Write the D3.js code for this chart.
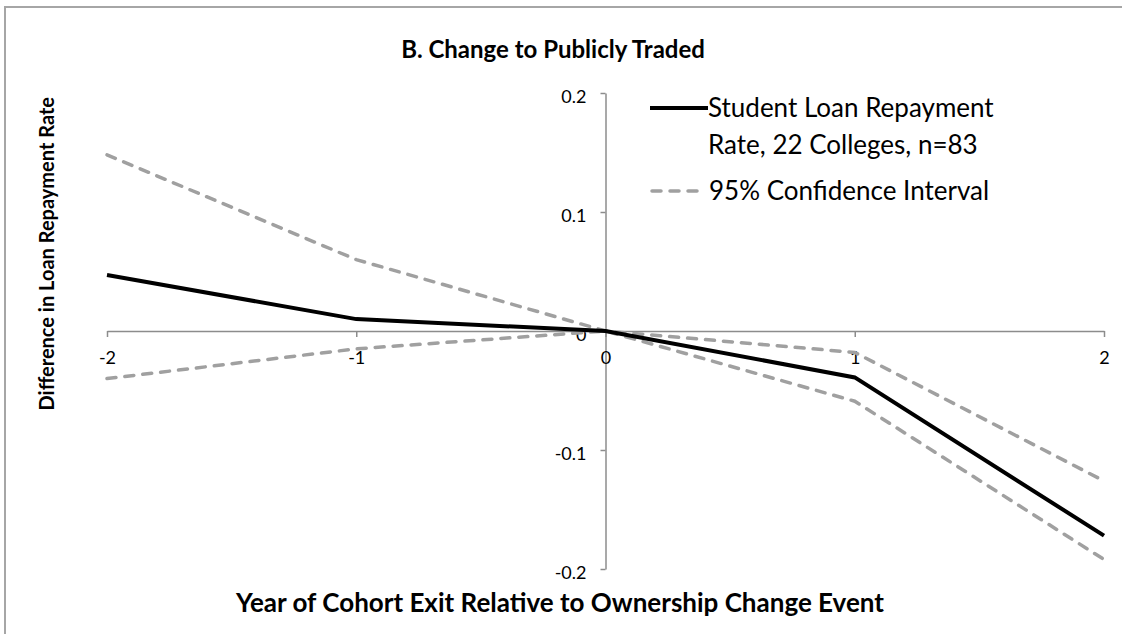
<!DOCTYPE html>
<html>
<head>
<meta charset="utf-8">
<script src="https://cdn.jsdelivr.net/npm/d3@7"></script>
<style>
  body { margin: 0; background: #fff; overflow: hidden; }
  text { font-family: Lato, "Open Sans", sans-serif; }
</style>
</head>
<body>
<div id="chart"></div>
<script>
// data
var years = [-2, -1, 0, 1, 2];
var repayment = [0.047, 0.010, 0, -0.039, -0.172];
var ciUpper = [0.148, 0.060, 0, -0.018, -0.126];
var ciLower = [-0.040, -0.015, 0, -0.059, -0.192];
var yTicks = [-0.2, -0.1, 0, 0.1, 0.2];

var svgWidth = 1122, svgHeight = 634;

var svg = d3.select("#chart")
  .append("svg")
    .attr("width", svgWidth)
    .attr("height", svgHeight)
    .style("display", "block");

// chart area border (cut off at right/bottom like the original)
svg.append("rect")
  .attr("x", 5).attr("y", 7)
  .attr("width", 1200).attr("height", 700)
  .style("fill", "none")
  .style("stroke", "#a6a6a6")
  .style("stroke-width", 2);

var x = d3.scaleLinear().domain([-2, 2]).range([107, 1104]);
var y = d3.scaleLinear().domain([-0.2, 0.2]).range([569, 93]);

var fmt = function(d) { return String(d); };

// y axis through x = 0
var yAxis = svg.append("g")
  .attr("transform", "translate(" + x(0) + ",0)")
  .call(d3.axisLeft(y).tickValues(yTicks).tickSize(5).tickSizeOuter(0).tickPadding(14).tickFormat(fmt));

// x axis through y = 0
var xAxis = svg.append("g")
  .attr("transform", "translate(0," + y(0) + ")")
  .call(d3.axisBottom(x).tickValues(years).tickSize(6).tickSizeOuter(0).tickPadding(14).tickFormat(fmt));

[yAxis, xAxis].forEach(function(g) {
  g.select(".domain").style("stroke", "#8c8c8c").style("stroke-width", 1.5);
  g.selectAll(".tick line").style("stroke", "#8c8c8c").style("stroke-width", 1.5);
  g.selectAll(".tick text").style("font-size", "18px").style("fill", "#000")
    .style("font-family", "Lato, sans-serif");
});
yAxis.selectAll(".tick text").attr("dy", "0.5em");

var line = d3.line()
  .x(function(d, i) { return x(years[i]); })
  .y(function(d) { return y(d); });

// confidence bands
[ciUpper, ciLower].forEach(function(s) {
  svg.append("path")
    .datum(s)
    .attr("d", line)
    .style("fill", "none")
    .style("stroke", "#a0a0a0")
    .style("stroke-width", 3.5)
    .style("stroke-dasharray", "9,9")
    .style("stroke-linecap", "round");
});

// main estimate
svg.append("path")
  .datum(repayment)
  .attr("d", line)
  .style("fill", "none")
  .style("stroke", "#000")
  .style("stroke-width", 4);

// title
svg.append("text")
  .attr("x", 553).attr("y", 58)
  .attr("text-anchor", "middle")
  .style("font-size", "24px")
  .style("font-weight", "bold")
  .text("B. Change to Publicly Traded");

// axis titles
svg.append("text")
  .attr("text-anchor", "end")
  .attr("transform", "translate(54,97)rotate(-90)")
  .style("font-size", "20px")
  .style("font-weight", "bold")
  .text("Difference in Loan Repayment Rate");

svg.append("text")
  .attr("x", 560).attr("y", 612)
  .attr("text-anchor", "middle")
  .style("font-size", "26px")
  .style("font-weight", "bold")
  .text("Year of Cohort Exit Relative to Ownership Change Event");

// legend
svg.append("line")
  .attr("x1", 650).attr("x2", 708).attr("y1", 108).attr("y2", 108)
  .style("stroke", "#000").style("stroke-width", 4);
svg.append("text").attr("x", 708).attr("y", 117)
  .style("font-size", "26px")
  .text("Student Loan Repayment");
svg.append("text").attr("x", 708).attr("y", 154)
  .style("font-size", "26px")
  .text("Rate, 22 Colleges, n=83");

svg.append("line")
  .attr("x1", 652).attr("x2", 700).attr("y1", 191).attr("y2", 191)
  .style("stroke", "#a0a0a0").style("stroke-width", 3.5)
  .style("stroke-dasharray", "9,9").style("stroke-linecap", "round");
svg.append("text").attr("x", 709).attr("y", 200)
  .style("font-size", "26px")
  .text("95% Confidence Interval");
</script>
</body>
</html>
